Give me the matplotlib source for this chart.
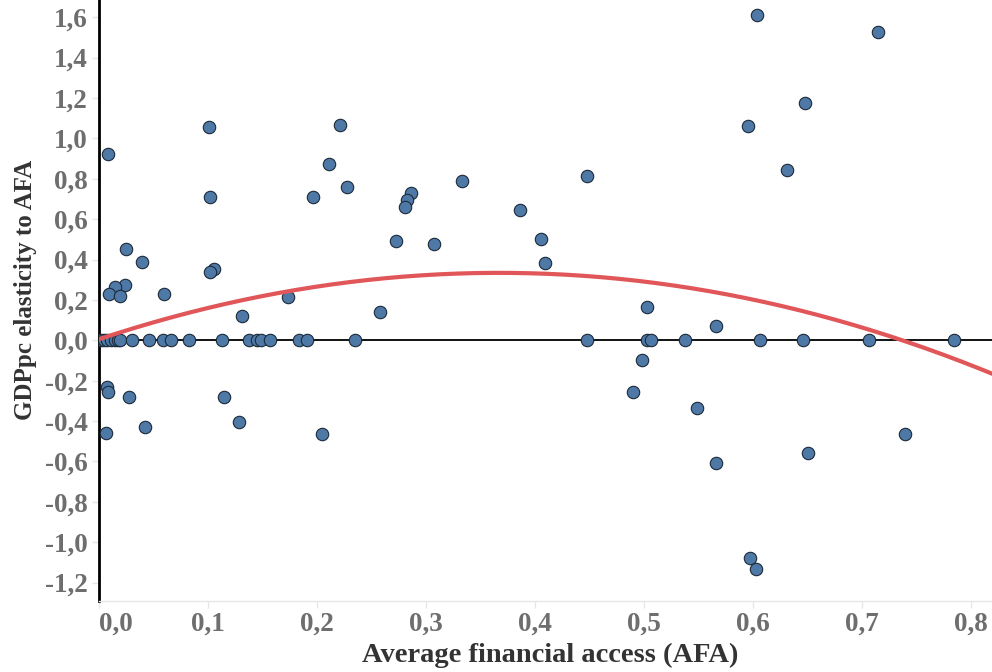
import numpy as np
import matplotlib
matplotlib.use("Agg")
import matplotlib.pyplot as plt
from matplotlib.ticker import FixedLocator, FuncFormatter

# average financial access (x) and GDPpc elasticity to AFA (y)
afa = [0.0085, 0.101, 0.221, 0.211, 0.228, 0.102, 0.197, 0.2865, 0.283, 0.281,
       0.333, 0.3865, 0.406, 0.409, 0.273, 0.308, 0.0253, 0.0394, 0.1058, 0.1018,
       0.0244, 0.0147, 0.0097, 0.0195, 0.0599, 0.174, 0.131, 0.2584,
       0.6037, 0.715, 0.648, 0.596, 0.631, 0.448,
       0.0076, 0.0085, 0.0281, 0.1152, 0.0067, 0.0422, 0.1284, 0.2052,
       0.5028, 0.5663, 0.498, 0.4905, 0.5486, 0.5663, 0.6507, 0.7394, 0.5972, 0.6028]
elast = [0.924, 1.054, 1.064, 0.873, 0.759, 0.711, 0.711, 0.729, 0.695, 0.658,
         0.789, 0.645, 0.501, 0.383, 0.490, 0.475, 0.450, 0.389, 0.351, 0.337,
         0.275, 0.264, 0.229, 0.221, 0.229, 0.213, 0.122, 0.140,
         1.609, 1.525, 1.173, 1.059, 0.842, 0.815,
         -0.231, -0.256, -0.282, -0.279, -0.460, -0.429, -0.404, -0.465,
         0.166, 0.071, -0.099, -0.256, -0.334, -0.609, -0.556, -0.465, -1.079, -1.132]

# observations sitting exactly on zero
afa_zero = [0.002, 0.005, 0.008, 0.011, 0.015, 0.018, 0.0195, 0.031, 0.0459, 0.0587,
            0.066, 0.0826, 0.113, 0.1376, 0.1455, 0.1486, 0.157, 0.1835, 0.191, 0.235,
            0.448, 0.5028, 0.507, 0.538, 0.6067, 0.646, 0.7064, 0.7844]

# quadratic trend: c0 + c1*x + c2*x^2
trend_coef = [0.005, 1.792, -2.44]

xticks = [0.0, 0.1, 0.2, 0.3, 0.4, 0.5, 0.6, 0.7, 0.8]
yticks = [-1.2, -1.0, -0.8, -0.6, -0.4, -0.2, 0.0, 0.2, 0.4, 0.6, 0.8, 1.0, 1.2, 1.4, 1.6]

serif = ["Liberation Serif", "DejaVu Serif"]
blue = "#4e79a7"
red = "#e15759"

fig = plt.figure(figsize=(9.92, 6.72), dpi=100)
ax = fig.add_axes([0.0995, 0.1057, 0.9005, 0.8943])

ax.axhline(0, color="black", lw=1.3, zorder=1)
ax.scatter(afa_zero, np.zeros(len(afa_zero)), s=80, color=blue,
           edgecolors="#1c2a38", linewidths=0.8, zorder=3)
ax.scatter(afa, elast, s=80, color=blue, edgecolors="#1c2a38",
           linewidths=0.8, zorder=3)

xs = np.linspace(0, 0.82, 200)
ys = trend_coef[0] + trend_coef[1] * xs + trend_coef[2] * xs ** 2
ax.plot(xs, ys, color=red, lw=3, zorder=4)

ax.set_xlim(0, 0.8195)
ax.set_ylim(-1.2906, 1.685)

fmt = FuncFormatter(lambda v, _: f"{v:.1f}".replace(".", ","))
ax.xaxis.set_major_locator(FixedLocator(xticks))
ax.yaxis.set_major_locator(FixedLocator(yticks))
ax.xaxis.set_major_formatter(fmt)
ax.yaxis.set_major_formatter(fmt)

for side in ["top", "right"]:
    ax.spines[side].set_visible(False)
ax.spines["left"].set_color("black")
ax.spines["left"].set_linewidth(2)
ax.spines["bottom"].set_color("#e6e6e6")
ax.spines["bottom"].set_linewidth(1)

ax.tick_params(axis="both", colors="#e6e6e6", length=5, width=1)
ax.tick_params(axis="x", pad=3)
ax.tick_params(axis="y", pad=3)
for lab in ax.get_xticklabels() + ax.get_yticklabels():
    lab.set_fontfamily(serif)
    lab.set_fontweight("bold")
    lab.set_fontsize(19.5)
    lab.set_color("#6e6e6e")
ax.get_xticklabels()[0].set_ha("left")

ax.set_xlabel("Average financial access (AFA)", fontfamily=serif,
              fontweight="bold", fontsize=20.5, color="#333333", va="center")
ax.set_ylabel("GDPpc elasticity to AFA", fontfamily=serif,
              fontweight="bold", fontsize=18, color="#333333", va="center")
ax.xaxis.set_label_coords(0.505, -0.0899)
ax.yaxis.set_label_coords(-0.0825, 0.517)

fig.savefig("out.png", dpi=100)
